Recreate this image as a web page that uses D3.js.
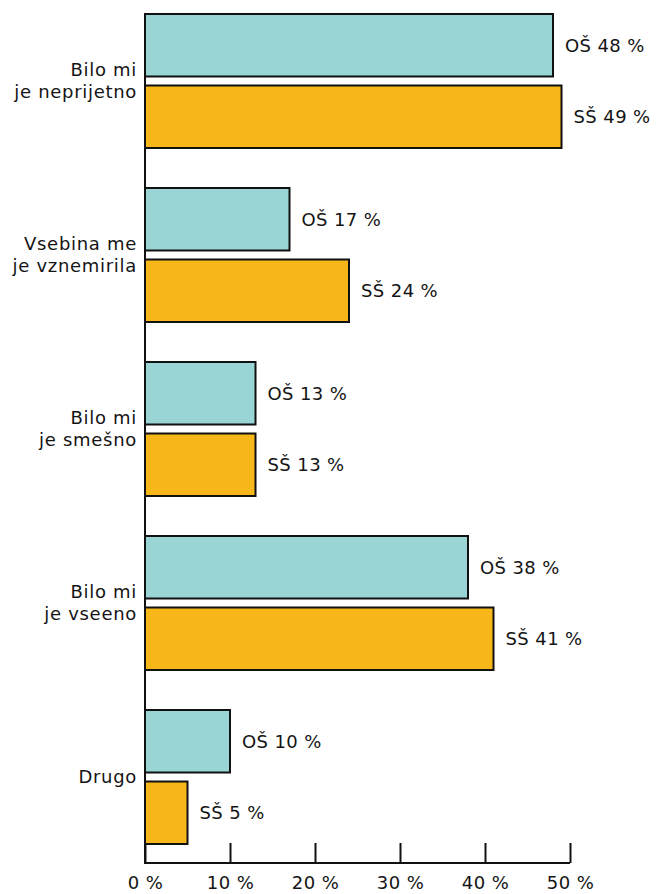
<!DOCTYPE html>
<html>
<head>
<meta charset="utf-8">
<script src="https://cdn.jsdelivr.net/npm/d3@7"></script>
<style>
  body { margin: 0; background: #fff; }
  text { font-family: "DejaVu Sans", sans-serif; fill: #141414; }
</style>
</head>
<body>
<div class="chart"></div>
<script>
// podatki
var kategorije = [
  ["Bilo mi", "je neprijetno"],
  ["Vsebina me", "je vznemirila"],
  ["Bilo mi", "je smešno"],
  ["Bilo mi", "je vseeno"],
  ["Drugo"]
];
var skupine = ["OŠ", "SŠ"];
var vrednostiOS = [48, 17, 13, 38, 10];
var vrednostiSS = [49, 24, 13, 41, 5];
var tickVrednosti = [0, 10, 20, 30, 40, 50];
var barve = ["#9AD5D6", "#F7B718"];

var width = 659, height = 894;
var axisY = 863;

var svg = d3.select(".chart")
    .append("svg")
    .attr("width", width)
    .attr("height", height);

var x = d3.scaleLinear()
    .domain([0, 50])
    .range([145, 570]);

var y = d3.scaleBand()
    .domain(d3.range(kategorije.length))
    .range([-6, 864])
    .paddingInner(0.2299)
    .paddingOuter(0.1149);

var ySub = d3.scaleBand()
    .domain(skupine)
    .range([0, y.bandwidth()])
    .paddingInner(0.126);

var barve2 = d3.scaleOrdinal().domain(skupine).range(barve);

var data = [];
kategorije.forEach(function(k, i) {
  data.push({ i: i, s: "OŠ", v: vrednostiOS[i] });
  data.push({ i: i, s: "SŠ", v: vrednostiSS[i] });
});

// palice
svg.selectAll(".bar")
    .data(data)
    .enter()
    .append("rect")
    .attr("class", "bar")
    .attr("x", x(0))
    .attr("y", function(d) { return y(d.i) + ySub(d.s); })
    .attr("width", function(d) { return x(d.v) - x(0); })
    .attr("height", ySub.bandwidth())
    .attr("fill", function(d) { return barve2(d.s); })
    .attr("stroke", "#111")
    .attr("stroke-width", 2);

// oznake vrednosti
svg.selectAll(".val")
    .data(data)
    .enter()
    .append("text")
    .attr("class", "val")
    .attr("x", function(d) { return x(d.v) + 12; })
    .attr("y", function(d) { return y(d.i) + ySub(d.s) + ySub.bandwidth() / 2; })
    .attr("dy", "0.36em")
    .style("font-size", "18px")
    .style("letter-spacing", "0.4px")
    .text(function(d) { return d.s + " " + d.v + " %"; });

// os x
var xAxis = d3.axisBottom(x)
    .tickValues(tickVrednosti)
    .tickSize(-20)
    .tickPadding(13)
    .tickFormat(function(d) { return d + " %"; });

var gx = svg.append("g")
    .attr("transform", "translate(0," + axisY + ")")
    .call(xAxis);
gx.select(".domain").attr("stroke", "#111").attr("stroke-width", 2)
    .attr("d", "M" + x(0) + ",0H" + x(50));
gx.selectAll(".tick line").attr("stroke", "#111").attr("stroke-width", 2);
gx.selectAll(".tick text")
    .style("font-size", "18px")
    .style("font-family", "'DejaVu Sans', sans-serif")
    .style("letter-spacing", "0.4px")
    .attr("fill", "#141414")
    .attr("dy", "0.72em");

// os y
svg.append("line")
    .attr("x1", x(0)).attr("x2", x(0))
    .attr("y1", y(0) - 1).attr("y2", axisY + 1)
    .attr("stroke", "#111")
    .attr("stroke-width", 2);

// imena kategorij
var lab = svg.selectAll(".cat")
    .data(kategorije)
    .enter()
    .append("text")
    .attr("class", "cat")
    .attr("text-anchor", "end")
    .style("font-size", "18px")
    .style("letter-spacing", "0.7px")
    .attr("transform", function(d, i) {
      return "translate(137," + (y(i) + y.bandwidth() / 2) + ")";
    });

lab.selectAll("tspan")
    .data(function(d) { return d; })
    .enter()
    .append("tspan")
    .attr("x", 0)
    .attr("y", function(d, j, arr) {
      return arr.length === 1 ? 6 : (j === 0 ? -5 : 17);
    })
    .text(function(d) { return d; });
</script>
</body>
</html>
